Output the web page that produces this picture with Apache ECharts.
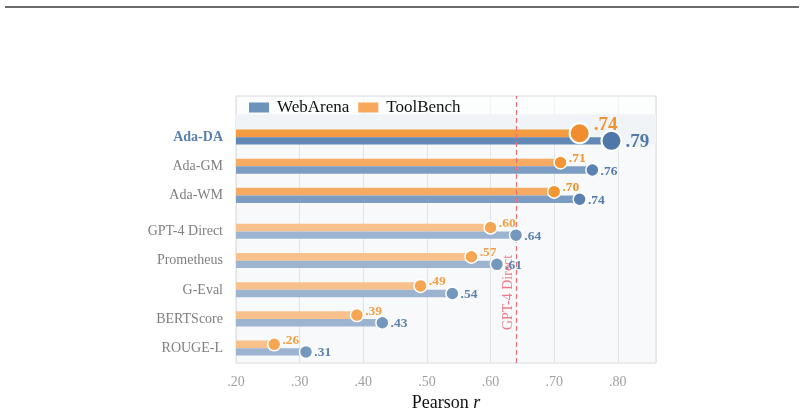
<!DOCTYPE html>
<html>
<head>
<meta charset="utf-8">
<script src="https://cdn.jsdelivr.net/npm/echarts@6/dist/echarts.min.js"></script>
<style>
	html,body{margin:0;padding:0;background:#fff;}
	#chart{width:804px;height:417px;}
</style>
</head>
<body>
<div id="chart"></div>
<script>
//1. data
var categories = ['Ada-DA','Ada-GM','Ada-WM','GPT-4 Direct','Prometheus','G-Eval','BERTScore','ROUGE-L'];
var webArena = [0.79,0.76,0.74,0.64,0.61,0.54,0.43,0.31];
var toolBench = [0.74,0.71,0.70,0.60,0.57,0.49,0.39,0.26];
var xTicks = [0.2,0.3,0.4,0.5,0.6,0.7,0.8];
var refValue = 0.64;
var refName = 'GPT-4 Direct';

;(function(){
	var serif = '"Liberation Serif", "DejaVu Serif", serif';
	var xMin = 0.2, xMax = 0.86;
	var yMin = -1.41, yMax = 7.74;

	//row position: small extra gap after the Ada rows
	var rowPos = categories.map(function(c,i){ return i + (i >= 3 ? 0.23 : 0); });
	var tier = function(i){ return i === 0 ? 0 : (i < 3 ? 1 : 2); };

	var style = {
		webBar : ['#6289b5','#7b9dc3','#9cb4cf'],
		toolBar : ['#f49b41','#f6aa62','#f8c08a'],
		webDot : ['#4f78a8','#5a81af','#7497be'],
		toolDot : ['#f08d2e','#f29634','#f5a653'],
		webText : ['#4f78a8','#5279a8','#5d82ad'],
		toolText : ['#f0922d','#f0922d','#f3a045'],
		dotSize : [20,13,13],
		font : [19,13.5,13.5]
	};

	//2. bars (custom series so rows can sit at uneven positions)
	var barRender = function(offset,h){
		return function(params,api){
			var p = api.value(1);
			var s = api.coord([xMin,p]);
			var e = api.coord([api.value(0),p]);
			return {
				type : 'rect',
				shape : {x:s[0], y:s[1]+offset, width:e[0]-s[0], height:h},
				style : {fill: api.visual('color')}
			};
		};
	};
	var barData = function(vals,colors){
		return vals.map(function(v,i){
			return {value:[v,rowPos[i]], itemStyle:{color:colors[tier(i)]}};
		});
	};

	//3. dots with value labels
	var dotData = function(vals,key,up){
		return vals.map(function(v,i){
			var t = tier(i);
			return {
				value : [v,rowPos[i]],
				symbolSize : style.dotSize[t],
				itemStyle : {color:style[key+'Dot'][t], opacity:1, borderColor:'#fff', borderWidth: t === 0 ? 2 : 1.5},
				label : {
					show : true,
					position : 'right',
					distance : t === 0 ? 3 : 1,
					offset : [0, up ? (t === 0 ? -8 : -4) : 1],
					formatter : '.' + Math.round(v*100),
					color : style[key+'Text'][t],
					fontFamily : serif,
					fontWeight : 'bold',
					fontSize : style.font[t]
				}
			};
		});
	};

	var option = {
		animation : false,
		backgroundColor : '#fff',
		grid : {
			left : 236, right : 148, top : 96, bottom : 51,
			show : true,
			backgroundColor : '#f8f9fa',
			borderColor : '#d9dbde',
			borderWidth : 1
		},
		legend : {
			data : ['WebArena','ToolBench'],
			left : 247, top : 97,
			icon : 'rect',
			itemWidth : 20, itemHeight : 10,
			itemGap : 9,
			padding : 2,
			textStyle : {fontFamily:serif, fontSize:17, color:'#111', padding:[0,0,0,3]}
		},
		xAxis : {
			type : 'value',
			min : xMin, max : xMax, interval : 0.1,
			axisLine : {show:false},
			axisTick : {show:false},
			splitLine : {show:true, lineStyle:{color:'#e2e4e7', width:1}},
			axisLabel : {
				margin : 12,
				color : '#a0a0a0',
				fontFamily : serif,
				fontSize : 14,
				formatter : function(v){
					for(var i=0;i<xTicks.length;i++){
						if(Math.abs(xTicks[i]-v) < 1e-6) return '.' + Math.round(v*100);
					}
					return '';
				}
			},
			name : '{a|Pearson }{i|r}',
			nameLocation : 'middle',
			nameGap : 29,
			nameTextStyle : {
				rich : {
					a : {fontFamily:serif, fontSize:18, color:'#111'},
					i : {fontFamily:serif, fontSize:18, color:'#111', fontStyle:'italic'}
				}
			}
		},
		yAxis : {
			type : 'value',
			inverse : true,
			min : yMin, max : yMax,
			axisLine : {show:false},
			axisTick : {show:false},
			splitLine : {show:false},
			axisLabel : {
				customValues : rowPos,
				margin : 13,
				color : '#7f7f7f',
				fontFamily : serif,
				fontSize : 14,
				formatter : function(v){
					for(var i=0;i<rowPos.length;i++){
						if(Math.abs(rowPos[i]-v) < 1e-6){
							return i === 0 ? '{b|' + categories[i] + '}' : categories[i];
						}
					}
					return '';
				},
				rich : {
					b : {fontFamily:serif, fontSize:14, fontWeight:'bold', color:'#5a80ae'}
				}
			}
		},
		graphic : [
			{type:'line', shape:{x1:5, y1:7, x2:799, y2:7}, style:{stroke:'#3a3a3a', lineWidth:1.5}, z:10},
			{type:'rect', shape:{x:237, y:97, width:418, height:17}, style:{fill:'rgba(255,255,255,0.6)'}, z:1}
		],
		series : [
			{
				type : 'line',
				data : [],
				z : 1,
				silent : true,
				markArea : {
					silent : true,
					itemStyle : {color:'#f1f4f7'},
					data : [[{coord:[xMin,-0.78]},{coord:[xMax,0.26]}]]
				}
			},
			{
				name : 'ToolBench',
				type : 'custom',
				z : 3,
				itemStyle : {color:'#f7a85a'},
				encode : {x:0, y:1},
				renderItem : barRender(-7.7,7.7),
				data : barData(toolBench,style.toolBar)
			},
			{
				name : 'WebArena',
				type : 'custom',
				z : 3,
				itemStyle : {color:'#6d93bb'},
				encode : {x:0, y:1},
				renderItem : barRender(0,7.4),
				data : barData(webArena,style.webBar)
			},
			{
				name : 'toolDots',
				type : 'scatter',
				z : 4,
				symbol : 'circle',
				symbolOffset : [0,-3.9],
				data : dotData(toolBench,'tool',true)
			},
			{
				name : 'webDots',
				type : 'scatter',
				z : 5,
				symbol : 'circle',
				symbolOffset : [0,3.7],
				data : dotData(webArena,'web',false),
				markLine : {
					silent : true,
					symbol : 'none',
					lineStyle : {color:'#e8707b', type:[5,3], width:1.2},
					label : {
						show : true,
						formatter : refName,
						position : 'insideStartTop',
						distance : [33,1],
						color : '#ec7c86',
						fontFamily : serif,
						fontSize : 14
					},
					data : [[{coord:[refValue,yMax]},{coord:[refValue,yMin]}]]
				}
			}
		]
	};

	var myChart = echarts.init(document.getElementById('chart'));
	myChart.setOption(option);
})();
</script>
</body>
</html>
